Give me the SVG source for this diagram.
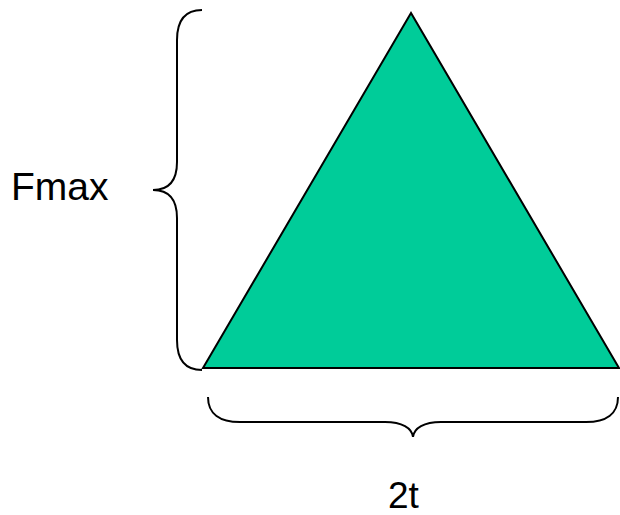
<svg xmlns="http://www.w3.org/2000/svg" width="620" height="515" viewBox="0 0 620 515">
<style>
.lbl{font-family:"Liberation Sans",Arial,sans-serif;font-size:37px;fill:#000}
.brace{fill:none;stroke:#000;stroke-width:2}
</style>
<rect width="620" height="515" fill="#fff"/>
<g id="triangle">
<polygon points="411,13 203,368 619,368" fill="#00CC99" stroke="#000" stroke-width="2" stroke-linejoin="miter"/>
</g>
<g id="connectors">
<path class="brace" d="M202,10 C186,10 177,20 177,40 L177,162 C177,182 168,190 153,190 C168,190 177,198 177,218 L177,340 C177,360 186,370 202,370"/>
<path class="brace" d="M208,397 C208,414 220,422 240,422 L385,422 C402,422 412,428 413,437 C414,428 424,422 441,422 L586,422 C606,422 618,414 618,397"/>
</g>
<g id="label-fmax"><text class="lbl" x="11" y="200" style="font-size:39px">Fmax</text></g>
<g id="label-2t"><text class="lbl" x="388" y="508">2t</text></g>
</svg>
